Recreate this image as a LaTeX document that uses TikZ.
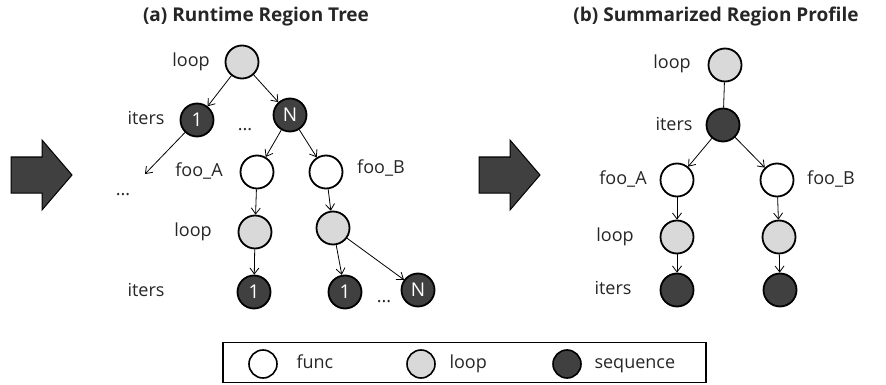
\documentclass[tikz,border=0pt]{standalone}
\usepackage{fontspec}
\setmainfont{Open Sans}
\usetikzlibrary{arrows.meta}
\definecolor{lgray}{HTML}{D9D9D9}
\definecolor{dgray}{HTML}{404040}
\definecolor{txt}{HTML}{262626}
\begin{document}
\begin{tikzpicture}[x=1pt,y=-1pt,
  every node/.style={text=txt},
  base/.style={circle,draw=black,line width=1.8pt,minimum size=33pt,inner sep=0pt,font=\fontsize{19}{19}\selectfont},
  fnode/.style={base,fill=white},
  lnode/.style={base,fill=lgray},
  snode/.style={base,fill=dgray,text=white},
  legc/.style={circle,draw=black,line width=1.6pt,minimum size=28pt,inner sep=0pt},
  lab/.style={font=\fontsize{18}{18}\selectfont,anchor=mid},
  ttl/.style={font=\bfseries\fontsize{19}{19}\selectfont},
  edge/.style={line width=0.8pt,-{Straight Barb[length=6pt,width=9pt]}},
  plain/.style={line width=0.8pt},
  bigarrow/.style={draw=black,line width=1pt,fill=dgray}
]
\useasboundingbox (0,0) rectangle (886,385);

% titles
\node[ttl] (ta) at (256,17) {(a) Runtime Region Tree};
\node[ttl] (tb) at (716,17) {(b) Summarized Region Profile};

% big arrows
\draw[bigarrow] (11,157) -- (42,157) -- (42,140) -- (72,175) -- (42,210) -- (42,193) -- (11,193) -- cycle;
\draw[bigarrow] (479,157) -- (510,157) -- (510,140) -- (540,175) -- (510,210) -- (510,193) -- (479,193) -- cycle;

% ---- tree (a)
\node[lnode] (aroot) at (242,62) {};
\node[snode] (a1) at (197,120) {1};
\node[snode] (aN) at (290,115) {N};
\node[fnode] (afa) at (257,172) {};
\node[fnode] (afb) at (326,172) {};
\node[lnode] (ala) at (255,232) {};
\node[lnode] (alb) at (333,228) {};
\node[snode] (aia) at (254,292) {1};
\node[snode] (aib1) at (345,292) {1};
\node[snode] (aibN) at (418,290) {N};
\coordinate (adots) at (145,174);

\node[lab] (l1) at (191,64) {loop};
\node[lab] (l2) at (146,122) {iters};
\node[lab] (l3) at (245,128) {...};
\node[lab] (l4) at (123,193) {...};
\node[lab] (l5) at (199,174) {foo\_A};
\node[lab] (l6) at (381,171) {foo\_B};
\node[lab] (l7) at (193,234) {loop};
\node[lab] (l8) at (146,294) {iters};
\node[lab] (l9) at (384,300) {...};

\draw[edge] (aroot) -- (a1);
\draw[edge] (aroot) -- (aN);
\draw[edge] (a1) -- (adots);
\draw[edge] (aN) -- (afa);
\draw[edge] (aN) -- (afb);
\draw[edge] (afa) -- (ala);
\draw[edge] (afb) -- (alb);
\draw[edge] (ala) -- (aia);
\draw[edge] (alb) -- (aib1);
\draw[edge] (alb) -- (aibN);

% ---- tree (b)
\node[lnode] (broot) at (725,65) {};
\node[snode] (bit) at (723,125) {};
\node[fnode] (bfa) at (677,180) {};
\node[fnode] (bfb) at (777,180) {};
\node[lnode] (bla) at (677,237) {};
\node[lnode] (blb) at (779,237) {};
\node[snode] (bia) at (677,290) {};
\node[snode] (bib) at (780,290) {};

\node[lab] (m1) at (672,66) {loop};
\node[lab] (m2) at (674,128) {iters};
\node[lab] (m3) at (623,182) {foo\_A};
\node[lab] (m4) at (831,182) {foo\_B};
\node[lab] (m5) at (615,239) {loop};
\node[lab] (m6) at (613,292) {iters};

\draw[plain] (broot) -- (bit);
\draw[edge] (bit) -- (bfa);
\draw[edge] (bit) -- (bfb);
\draw[edge] (bfa) -- (bla);
\draw[edge] (bfb) -- (blb);
\draw[edge] (bla) -- (bia);
\draw[edge] (blb) -- (bib);

% ---- legend
\node[draw=black,line width=1.5pt,minimum width=483pt,minimum height=40pt,inner sep=0pt] (leg) at (464.5,362.5) {};
\node[legc,fill=white] (c1) at (263,364) {};
\node[lab,anchor=mid west] (t1) at (293,366) {func};
\node[legc,fill=lgray] (c2) at (421,364) {};
\node[lab,anchor=mid west] (t2) at (446,366) {loop};
\node[legc,fill=dgray] (c3) at (567,364) {};
\node[lab,anchor=mid west] (t3) at (591,366) {sequence};
\end{tikzpicture}
\end{document}
